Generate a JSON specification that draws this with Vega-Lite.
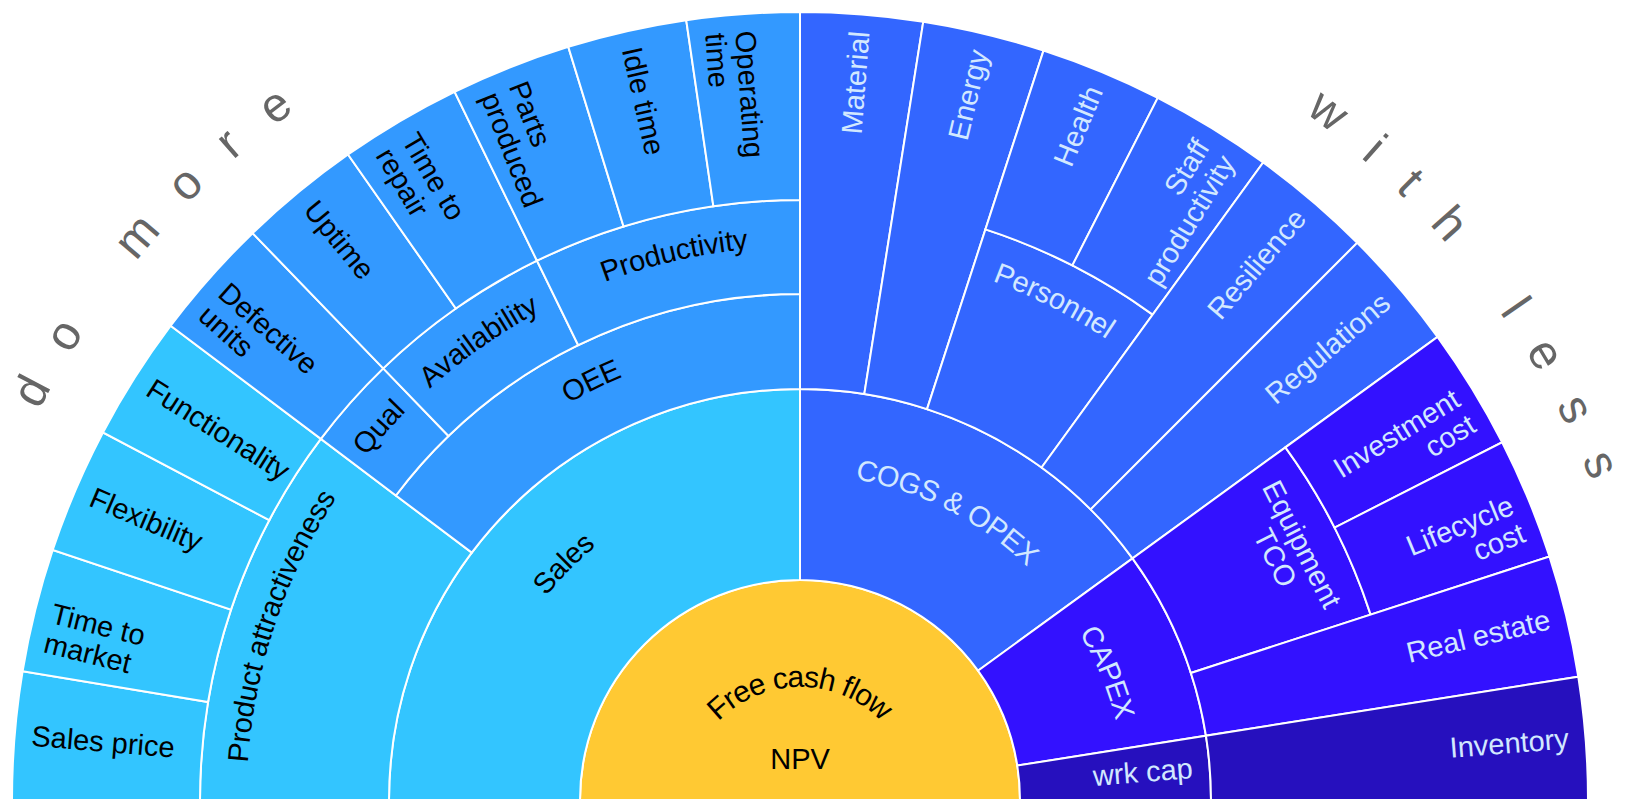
{
  "$schema": "https://vega.github.io/schema/vega-lite/v6.json",
  "width": 1627,
  "height": 800,
  "autosize": {"type": "fit", "contains": "padding"},
  "padding": 0,
  "background": "white",
  "config": {"view": {"stroke": null}, "text": {"font": "Liberation Sans"}},
  "datasets": {
    "nodes": [
      {"name": "NPV", "t0": 0, "t1": 180, "l0": 0, "l1": 1, "branch": "NPV"},
      {"name": "Sales", "t0": 0, "t1": 90, "l0": 1, "l1": 2, "branch": "Sales"},
      {"name": "Product attractiveness", "t0": 0, "t1": 37, "l0": 2, "l1": 4, "branch": "Sales"},
      {"name": "Sales price", "t0": 0, "t1": 9.4, "l0": 4, "l1": 5, "branch": "Sales"},
      {"name": "Time to\nmarket", "t0": 9.4, "t1": 18.5, "l0": 4, "l1": 5, "branch": "Sales"},
      {"name": "Flexibility", "t0": 18.5, "t1": 27.8, "l0": 4, "l1": 5, "branch": "Sales"},
      {"name": "Functionality", "t0": 27.8, "t1": 37, "l0": 4, "l1": 5, "branch": "Sales"},
      {"name": "OEE", "t0": 37, "t1": 90, "l0": 2, "l1": 3, "branch": "OEE"},
      {"name": "Qual", "t0": 37, "t1": 46, "l0": 3, "l1": 4, "branch": "OEE"},
      {"name": "Defective\nunits", "t0": 37, "t1": 46, "l0": 4, "l1": 5, "branch": "OEE"},
      {"name": "Availability", "t0": 46, "t1": 64, "l0": 3, "l1": 4, "branch": "OEE"},
      {"name": "Uptime", "t0": 46, "t1": 55, "l0": 4, "l1": 5, "branch": "OEE"},
      {"name": "Time to\nrepair", "t0": 55, "t1": 64, "l0": 4, "l1": 5, "branch": "OEE"},
      {"name": "Productivity", "t0": 64, "t1": 90, "l0": 3, "l1": 4, "branch": "OEE"},
      {"name": "Parts\nproduced", "t0": 64, "t1": 72.9, "l0": 4, "l1": 5, "branch": "OEE"},
      {"name": "Idle time", "t0": 72.9, "t1": 81.7, "l0": 4, "l1": 5, "branch": "OEE"},
      {"name": "Operating\ntime", "t0": 81.7, "t1": 90, "l0": 4, "l1": 5, "branch": "OEE"},
      {"name": "COGS & OPEX", "t0": 90, "t1": 144, "l0": 1, "l1": 2, "branch": "COGS & OPEX"},
      {"name": "Material", "t0": 90, "t1": 99, "l0": 2, "l1": 5, "branch": "COGS & OPEX"},
      {"name": "Energy", "t0": 99, "t1": 108, "l0": 2, "l1": 5, "branch": "COGS & OPEX"},
      {"name": "Personnel", "t0": 108, "t1": 126, "l0": 2, "l1": 4, "branch": "COGS & OPEX"},
      {"name": "Health", "t0": 108, "t1": 117, "l0": 4, "l1": 5, "branch": "COGS & OPEX"},
      {"name": "Staff\nproductivity", "t0": 117, "t1": 126, "l0": 4, "l1": 5, "branch": "COGS & OPEX"},
      {"name": "Resilience", "t0": 126, "t1": 135, "l0": 2, "l1": 5, "branch": "COGS & OPEX"},
      {"name": "Regulations", "t0": 135, "t1": 144, "l0": 2, "l1": 5, "branch": "COGS & OPEX"},
      {"name": "CAPEX", "t0": 144, "t1": 171, "l0": 1, "l1": 2, "branch": "CAPEX"},
      {"name": "Equipment\nTCO", "t0": 144, "t1": 162, "l0": 2, "l1": 4, "branch": "CAPEX"},
      {"name": "Investment\ncost", "t0": 144, "t1": 153, "l0": 4, "l1": 5, "branch": "CAPEX"},
      {"name": "Lifecycle\ncost", "t0": 153, "t1": 162, "l0": 4, "l1": 5, "branch": "CAPEX"},
      {"name": "Real estate", "t0": 162, "t1": 171, "l0": 2, "l1": 5, "branch": "CAPEX"},
      {"name": "wrk cap", "t0": 171, "t1": 180, "l0": 1, "l1": 2, "branch": "wrk cap"},
      {"name": "Inventory", "t0": 171, "t1": 180, "l0": 2, "l1": 5, "branch": "wrk cap"}
    ],
    "ann": [
      {"name": "do more", "t": 40.45, "lr": 5.43},
      {"name": "with less", "t": 142.2, "lr": 5.42},
      {"name": "Free cash flow", "t": 90, "lr": 0.555}
    ]
  },
  "layer": [
    {
      "data": {"name": "nodes"},
      "mark": {"type": "arc", "x": 800, "y": 800, "stroke": "white", "strokeWidth": 2},
      "encoding": {
        "theta": {"field": "t0", "type": "quantitative", "stack": null, "scale": {"type": "linear", "domain": [0, 180], "range": [-1.5707963267948966, 1.5707963267948966]}},
        "theta2": {"field": "t1"},
        "radius": {"field": "l1", "type": "quantitative", "scale": {"type": "linear", "domain": [0, 1, 2, 3, 4, 5], "range": [0, 220, 411, 506, 600, 788]}},
        "radius2": {"field": "l0"},
        "color": {"field": "branch", "type": "nominal", "legend": null, "scale": {"domain": ["NPV", "Sales", "OEE", "COGS & OPEX", "CAPEX", "wrk cap"], "range": ["#FFC933", "#33C5FF", "#3399FF", "#3366FF", "#3311FF", "#2610BE"]}}
      }
    },
    {
      "data": {"name": "nodes"},
      "transform": [
        {"filter": "datum.l0 > 0"},
        {"calculate": "[0,220,411,506,600,788][datum.l1-1] + 0.6*([0,220,411,506,600,788][datum.l1] - [0,220,411,506,600,788][datum.l1-1])", "as": "rpx"},
        {"calculate": "(datum.t1-datum.t0)*PI/180*datum.rpx", "as": "arcLen"},
        {"calculate": "length(split(datum.name,'\\n')[0])*13", "as": "firstLen"},
        {"filter": "datum.l1 == 5 || datum.arcLen <= datum.firstLen"},
        {"calculate": "(datum.t0+datum.t1)/2", "as": "mid"},
        {"filter": "datum.mid < 90"},
        {"calculate": "datum.l1 - 0.09", "as": "lr"},
        {"calculate": "datum.mid", "as": "rot"}
      ],
      "mark": {"type": "text", "x": 800, "y": 800, "align": "left", "baseline": "middle", "fontSize": 29, "lineBreak": "\n", "lineHeight": 30},
      "encoding": {
        "text": {"field": "name", "type": "nominal"},
        "theta": {"field": "mid", "type": "quantitative", "stack": null, "scale": {"type": "linear", "domain": [0, 180], "range": [-1.5707963267948966, 1.5707963267948966]}},
        "radius": {"field": "lr", "type": "quantitative", "scale": {"type": "linear", "domain": [0, 1, 2, 3, 4, 5], "range": [0, 220, 411, 506, 600, 788]}},
        "angle": {"field": "rot", "type": "quantitative", "scale": {"domain": [-360, 360], "range": [-360, 360]}},
        "color": {"condition": {"test": "datum.branch=='COGS & OPEX' || datum.branch=='CAPEX' || datum.branch=='wrk cap'", "value": "#d2e8ff"}, "value": "#000000"}
      }
    },
    {
      "data": {"name": "nodes"},
      "transform": [
        {"filter": "datum.l0 > 0"},
        {"calculate": "[0,220,411,506,600,788][datum.l1-1] + 0.6*([0,220,411,506,600,788][datum.l1] - [0,220,411,506,600,788][datum.l1-1])", "as": "rpx"},
        {"calculate": "(datum.t1-datum.t0)*PI/180*datum.rpx", "as": "arcLen"},
        {"calculate": "length(split(datum.name,'\\n')[0])*13", "as": "firstLen"},
        {"filter": "datum.l1 == 5 || datum.arcLen <= datum.firstLen"},
        {"calculate": "(datum.t0+datum.t1)/2", "as": "mid"},
        {"filter": "datum.mid >= 90"},
        {"calculate": "datum.l1 - 0.09", "as": "lr"},
        {"calculate": "datum.mid - 180", "as": "rot"}
      ],
      "mark": {"type": "text", "x": 800, "y": 800, "align": "right", "baseline": "middle", "fontSize": 29, "lineBreak": "\n", "lineHeight": 30},
      "encoding": {
        "text": {"field": "name", "type": "nominal"},
        "theta": {"field": "mid", "type": "quantitative", "stack": null, "scale": {"type": "linear", "domain": [0, 180], "range": [-1.5707963267948966, 1.5707963267948966]}},
        "radius": {"field": "lr", "type": "quantitative", "scale": {"type": "linear", "domain": [0, 1, 2, 3, 4, 5], "range": [0, 220, 411, 506, 600, 788]}},
        "angle": {"field": "rot", "type": "quantitative", "scale": {"domain": [-360, 360], "range": [-360, 360]}},
        "color": {"condition": {"test": "datum.branch=='COGS & OPEX' || datum.branch=='CAPEX' || datum.branch=='wrk cap'", "value": "#d2e8ff"}, "value": "#000000"}
      }
    },
    {
      "data": {"name": "nodes"},
      "transform": [
        {"calculate": "[0,220,411,506,600,788][datum.l1-1] + 0.6*([0,220,411,506,600,788][datum.l1] - [0,220,411,506,600,788][datum.l1-1])", "as": "rpx"},
        {"calculate": "(datum.t1-datum.t0)*PI/180*datum.rpx", "as": "arcLen"},
        {"calculate": "length(split(datum.name,'\\n')[0])*13", "as": "firstLen"},
        {"filter": "datum.l0 == 0 || (datum.l1 < 5 && datum.arcLen > datum.firstLen && indexof(datum.name,'\\n') >= 0)"},
        {"calculate": "(datum.t0+datum.t1)/2", "as": "mid"},
        {"calculate": "datum.l0 == 0 ? 0.18 : datum.l1 - 0.4", "as": "lr"},
        {"calculate": "datum.mid - 90", "as": "rot"}
      ],
      "mark": {"type": "text", "x": 800, "y": 800, "align": "center", "baseline": "middle", "fontSize": 29, "lineBreak": "\n", "lineHeight": 30},
      "encoding": {
        "text": {"field": "name", "type": "nominal"},
        "theta": {"field": "mid", "type": "quantitative", "stack": null, "scale": {"type": "linear", "domain": [0, 180], "range": [-1.5707963267948966, 1.5707963267948966]}},
        "radius": {"field": "lr", "type": "quantitative", "scale": {"type": "linear", "domain": [0, 1, 2, 3, 4, 5], "range": [0, 220, 411, 506, 600, 788]}},
        "angle": {"field": "rot", "type": "quantitative", "scale": {"domain": [-360, 360], "range": [-360, 360]}},
        "color": {"condition": {"test": "datum.branch=='COGS & OPEX' || datum.branch=='CAPEX' || datum.branch=='wrk cap'", "value": "#d2e8ff"}, "value": "#000000"}
      }
    },
    {
      "data": {"name": "nodes"},
      "transform": [
        {"filter": "datum.l0 > 0"},
        {"calculate": "[0,220,411,506,600,788][datum.l1-1] + 0.6*([0,220,411,506,600,788][datum.l1] - [0,220,411,506,600,788][datum.l1-1])", "as": "rpx"},
        {"calculate": "(datum.t1-datum.t0)*PI/180*datum.rpx", "as": "arcLen"},
        {"calculate": "length(split(datum.name,'\\n')[0])*13", "as": "firstLen"},
        {"filter": "datum.l1 < 5 && datum.arcLen > datum.firstLen && indexof(datum.name,'\\n') < 0"},
        {"calculate": "split(datum.name,'')", "as": "chars"},
        {"flatten": ["chars"], "as": ["ch"]},
        {"calculate": "indexof('il', datum.ch) >= 0 ? 0.222 : indexof('ft ', datum.ch) >= 0 ? 0.278 : datum.ch == 'r' ? 0.333 : indexof('csvy', datum.ch) >= 0 ? 0.5 : datum.ch == 'F' ? 0.611 : indexof('SPEAX&', datum.ch) >= 0 ? 0.667 : indexof('Cw', datum.ch) >= 0 ? 0.722 : indexof('OGQ', datum.ch) >= 0 ? 0.778 : datum.ch == 'm' ? 0.833 : 0.556", "as": "w"},
        {"window": [{"op": "sum", "field": "w", "as": "cum"}], "groupby": ["name"]},
        {"joinaggregate": [{"op": "sum", "field": "w", "as": "W"}], "groupby": ["name"]},
        {"calculate": "(datum.t0+datum.t1)/2 + ((datum.cum - datum.w/2) - datum.W/2)*29/datum.rpx*180/PI", "as": "tl"},
        {"calculate": "datum.l1 - 0.4", "as": "lr"},
        {"calculate": "datum.tl - 90", "as": "rot"}
      ],
      "mark": {"type": "text", "x": 800, "y": 800, "align": "center", "baseline": "middle", "fontSize": 29},
      "encoding": {
        "text": {"field": "ch", "type": "nominal"},
        "theta": {"field": "tl", "type": "quantitative", "stack": null, "scale": {"type": "linear", "domain": [0, 180], "range": [-1.5707963267948966, 1.5707963267948966]}},
        "radius": {"field": "lr", "type": "quantitative", "scale": {"type": "linear", "domain": [0, 1, 2, 3, 4, 5], "range": [0, 220, 411, 506, 600, 788]}},
        "angle": {"field": "rot", "type": "quantitative", "scale": {"domain": [-360, 360], "range": [-360, 360]}},
        "color": {"condition": {"test": "datum.branch=='COGS & OPEX' || datum.branch=='CAPEX' || datum.branch=='wrk cap'", "value": "#d2e8ff"}, "value": "#000000"}
      }
    },
    {
      "data": {"name": "ann"},
      "transform": [
        {"calculate": "min(4, floor(datum.lr))", "as": "k"},
        {"calculate": "[0,220,411,506,600,788][datum.k] + (datum.lr - datum.k)*([0,220,411,506,600,788][datum.k+1] - [0,220,411,506,600,788][datum.k])", "as": "rpx"},
        {"calculate": "datum.name == 'Free cash flow' ? 30 : 48", "as": "fs"},
        {"calculate": "datum.name == 'Free cash flow' ? 0 : datum.name == 'with less' ? 37 : 38", "as": "ls"},
        {"calculate": "split(datum.name,'')", "as": "chars"},
        {"flatten": ["chars"], "as": ["ch"]},
        {"calculate": "indexof('il', datum.ch) >= 0 ? 0.222 : indexof('ft ', datum.ch) >= 0 ? 0.278 : datum.ch == 'r' ? 0.333 : indexof('csvy', datum.ch) >= 0 ? 0.5 : datum.ch == 'F' ? 0.611 : indexof('SPEAX&', datum.ch) >= 0 ? 0.667 : indexof('Cw', datum.ch) >= 0 ? 0.722 : indexof('OGQ', datum.ch) >= 0 ? 0.778 : datum.ch == 'm' ? 0.833 : 0.556", "as": "w"},
        {"window": [{"op": "sum", "field": "w", "as": "cum"}, {"op": "row_number", "as": "idx"}], "groupby": ["name"]},
        {"joinaggregate": [{"op": "sum", "field": "w", "as": "W"}, {"op": "count", "as": "n"}], "groupby": ["name"]},
        {"calculate": "(datum.cum - datum.w/2)*datum.fs + (datum.idx-1)*datum.ls - (datum.W*datum.fs + (datum.n-1)*datum.ls)/2", "as": "off"},
        {"calculate": "datum.t + datum.off/datum.rpx*180/PI", "as": "tl"},
        {"calculate": "datum.tl - 90", "as": "rot"}
      ],
      "mark": {"type": "text", "x": 800, "y": 800, "align": "center", "baseline": "middle"},
      "encoding": {
        "text": {"field": "ch", "type": "nominal"},
        "theta": {"field": "tl", "type": "quantitative", "stack": null, "scale": {"type": "linear", "domain": [0, 180], "range": [-1.5707963267948966, 1.5707963267948966]}},
        "radius": {"field": "lr", "type": "quantitative", "scale": {"type": "linear", "domain": [0, 1, 2, 3, 4, 5], "range": [0, 220, 411, 506, 600, 788]}},
        "angle": {"field": "rot", "type": "quantitative", "scale": {"domain": [-360, 360], "range": [-360, 360]}},
        "size": {"condition": {"test": "datum.name == 'Free cash flow'", "value": 30}, "value": 48},
        "color": {"condition": {"test": "datum.name == 'Free cash flow'", "value": "#000000"}, "value": "#666666"}
      }
    }
  ]
}
